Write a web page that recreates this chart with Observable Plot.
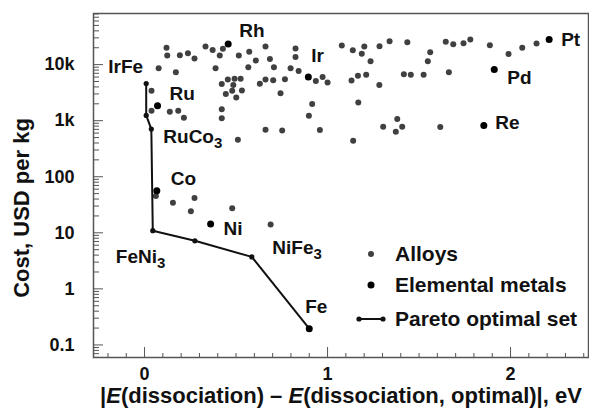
<!DOCTYPE html>
<html><head><meta charset="utf-8">
<script src="https://cdn.jsdelivr.net/npm/d3@7"></script>
<script src="https://cdn.jsdelivr.net/npm/@observablehq/plot@0.6"></script>
<style>
body{margin:0;background:#fff;}
#wrap{position:relative;width:589px;height:409px;font-family:"Liberation Sans",Arial,sans-serif;font-weight:bold;color:#111;}
.lg{position:absolute;left:355px;height:24px;display:flex;align-items:center;font-size:21px;white-space:nowrap;}
.lg svg{margin-right:8px;}
</style></head><body><div id="wrap"></div>
<script>
// Alloys (gray dots)
const alloyX = [0.120,0.124,0.193,0.237,0.273,0.333,0.372,0.428,0.411,0.515,0.572,0.661,0.685,0.825,0.825,0.608,0.567,0.707,0.798,0.842,0.077,0.171,0.388,0.455,0.492,0.525,0.422,0.485,0.444,0.479,0.532,0.501,0.630,0.661,0.703,0.767,0.743,0.936,0.973,1.000,0.916,0.898,0.958,0.661,0.752,0.510,0.422,0.422,0.138,0.184,0.215,0.038,0.038,
  0.062,0.155,0.273,0.253,0.479,0.689,
  1.078,1.138,1.187,1.201,1.235,1.284,1.339,1.436,1.561,1.548,1.646,1.687,1.743,1.780,1.887,1.989,2.064,2.142,1.131,1.166,1.211,1.283,1.417,1.455,1.525,1.663,1.168,1.381,1.304,1.373,1.408,1.616,1.140];
const alloyCost = [19900,14500,14700,15900,12800,21000,18300,19100,14500,14500,16900,21000,12600,19300,13700,11800,8950,8950,8600,7700,8600,7300,8600,5400,5600,5600,4500,4340,3000,3430,3470,2600,4570,5400,5240,5500,3070,5100,6000,4800,1980,1220,680,687,668,455,1600,1110,1440,1500,1130,3430,1500,
  45.4,34.4,41.8,24.2,27.3,14.1,
  21900,18000,15700,21000,11500,21200,26100,25000,16600,11500,25500,23100,24000,28000,22100,15500,19900,23800,5200,6300,6600,4340,6700,6600,6600,7300,2120,1070,778,633,778,768,437];
// Elemental metals (black dots)
const elemNames = ["Rh","Ir","Pt","Pd","Re","Ru","Co","Ni","Fe"];
const elemX = [0.457,0.895,2.211,1.911,1.854,0.071,0.067,0.361,0.900];
const elemCost = [23400,6000,28000,8150,820,1850,56.4,14.3,0.195];
// Pareto optimal set
const paretoNames = ["IrFe","","RuCo3","FeNi3","","NiFe3","Fe"];
const paretoX = [0.009,0.009,0.037,0.045,0.275,0.586,0.900];
const paretoCost = [4600,1240,708,10.9,7.2,3.72,0.195];
// Axis ticks
const xMajor = [0,1,2];
const xMajorLabels = ["0","1","2"];
const xMinor = d3.range(-2,25).map(i=>i/10).filter(v=>Math.abs(v-Math.round(v))>1e-9);
const yMajor = [0.1,1,10,100,1000,10000];
const yMajorLabels = ["0.1","1","10","100","1k","10k"];
const yMinorAll = [0.01,0.1,1,10,100,1000,10000].flatMap(d=>[2,3,4,5,6,7,8,9].map(m=>+(d*m).toPrecision(3)));
const xDomain = [-0.279, 2.426];
const yDomain = [0.0597, 81600];
const yMinor = yMinorAll.filter(v=>v>yDomain[0]&&v<yDomain[1]);

// layout
const W = 589, H = 409, mL = 93, mR = 1, mT = 13, mB = 52;
const plotW = W-mL-mR, plotH = H-mT-mB;

// label styling (offsets in px)
const labelStyle = {
  "Rh":{dx:11,dy:-13,a:"start"}, "Ir":{dx:3,dy:-21,a:"start"}, "Pt":{dx:12,dy:0,a:"start"},
  "Pd":{dx:13,dy:8.5,a:"start"}, "Re":{dx:11.5,dy:-3,a:"start"}, "Ru":{dx:12,dy:-12,a:"start"},
  "Co":{dx:14,dy:-12,a:"start"}, "Ni":{dx:13,dy:4.5,a:"start"}, "Fe":{dx:-4,dy:-22,a:"start"},
  "IrFe":{dx:-3,dy:-17,a:"end"}, "RuCo3":{dx:12,dy:8,a:"start"}, "FeNi3":{dx:-37,dy:26,a:"start"},
  "NiFe3":{dx:20.5,dy:-9,a:"start"}
};

const alloys = alloyX.map((x,i)=>({x, y: alloyCost[i]}));
const elems = elemX.map((x,i)=>({x, y: elemCost[i], name: elemNames[i]}));
const pareto = paretoX.map((x,i)=>({x, y: paretoCost[i], name: paretoNames[i]}));
const labeled = [...elems, ...pareto.filter(d=>d.name && d.name!=="Fe")];

const labelMarks = labeled.map(d=>{
  const s = labelStyle[d.name];
  return Plot.text([d], {x:"x", y:"y", text:"name", dx:s.dx, dy:s.dy, textAnchor:s.a, fontSize:19, fontWeight:"bold", fill:"#111", className:"ptlabel"});
});

const axisStroke = "#555";
const chart = Plot.plot({
  width: W, height: H,
  marginLeft: mL, marginRight: mR, marginTop: mT, marginBottom: mB,
  style: {fontFamily: "'Liberation Sans', Arial, sans-serif", fontWeight: "bold", fontSize: "18px", color: "#111", background: "white"},
  x: {domain: xDomain},
  y: {type: "log", domain: yDomain},
  marks: [
    Plot.tickY(yMinor, {y: d=>d, insetRight: plotW-6, stroke: axisStroke}),
    Plot.tickY(yMajor, {y: d=>d, insetRight: plotW-10, stroke: axisStroke}),
    Plot.axisY({ticks: yMajor, tickSize: 0, tickPadding: 19, tickFormat: d=>yMajorLabels[yMajor.indexOf(d)], label: null, fontSize: 18, fontWeight: "bold", fill: "#111"}),
    Plot.tickX(xMinor, {x: d=>d, insetTop: plotH-4, stroke: axisStroke}),
    Plot.tickX(xMajor, {x: d=>d, insetTop: plotH-10, stroke: axisStroke}),
    Plot.axisX({ticks: xMajor, tickSize: 0, tickPadding: 10, tickFormat: d=>xMajorLabels[xMajor.indexOf(d)], label: null, fontSize: 18, fontWeight: "bold", fill: "#111"}),
    Plot.frame({stroke: axisStroke, strokeWidth: 1.5}),
    Plot.dot(alloys, {x:"x", y:"y", r:3, fill:"#404040"}),
    Plot.line(pareto, {x:"x", y:"y", stroke:"#111", strokeWidth:2}),
    Plot.dot(pareto, {x:"x", y:"y", r:2.6, fill:"#111"}),
    Plot.dot(elems, {x:"x", y:"y", r:3.5, fill:"#000"}),
    ...labelMarks
  ]
});
document.getElementById("wrap").appendChild(chart);

// subscripts for formula labels (e.g. RuCo3 -> RuCo with subscript 3)
d3.select(chart).selectAll("text").each(function(){
  const t = this.textContent;
  if (/^[A-Z][a-z]?[A-Z][a-z]?3$/.test(t)) {
    const el = d3.select(this);
    el.text(null);
    el.append("tspan").text(t.slice(0,-1));
    el.append("tspan").attr("font-size","15px").attr("dy","5").text("3");
  }
});

// axis titles
const svg = d3.select(chart);
const xt = svg.append("text").attr("x", 341).attr("y", 403).attr("text-anchor","middle")
  .style("font-size","22px").style("font-weight","bold").attr("fill","#111");
xt.append("tspan").text("|");
xt.append("tspan").attr("font-style","italic").text("E");
xt.append("tspan").text("(dissociation) – ");
xt.append("tspan").attr("font-style","italic").text("E");
xt.append("tspan").text("(dissociation, optimal)|, eV");
svg.append("text").attr("transform","translate(29,208) rotate(-90)").attr("text-anchor","middle")
  .style("font-size","22px").style("font-weight","bold").attr("fill","#111").text("Cost, USD per kg");

// legend
const wrap = document.getElementById("wrap");
const rows = [
  {label:"Alloys", cy:254, kind:"alloy"},
  {label:"Elemental metals", cy:285, kind:"elem"},
  {label:"Pareto optimal set", cy:319, kind:"pareto"}
];
rows.forEach(r=>{
  const div = document.createElement("div");
  div.className = "lg";
  div.style.top = (r.cy-12)+"px";
  let sw;
  if (r.kind==="alloy") sw = '<circle cx="16" cy="12" r="3" fill="#404040"/>';
  else if (r.kind==="elem") sw = '<circle cx="16" cy="12" r="3.5" fill="#000"/>';
  else sw = '<line x1="4" y1="12" x2="28" y2="12" stroke="#111" stroke-width="2"/><circle cx="4" cy="12" r="2.6" fill="#111"/><circle cx="28" cy="12" r="2.6" fill="#111"/>';
  div.innerHTML = '<svg width="32" height="24">'+sw+'</svg><span>'+r.label+'</span>';
  wrap.appendChild(div);
});
</script></body></html>
